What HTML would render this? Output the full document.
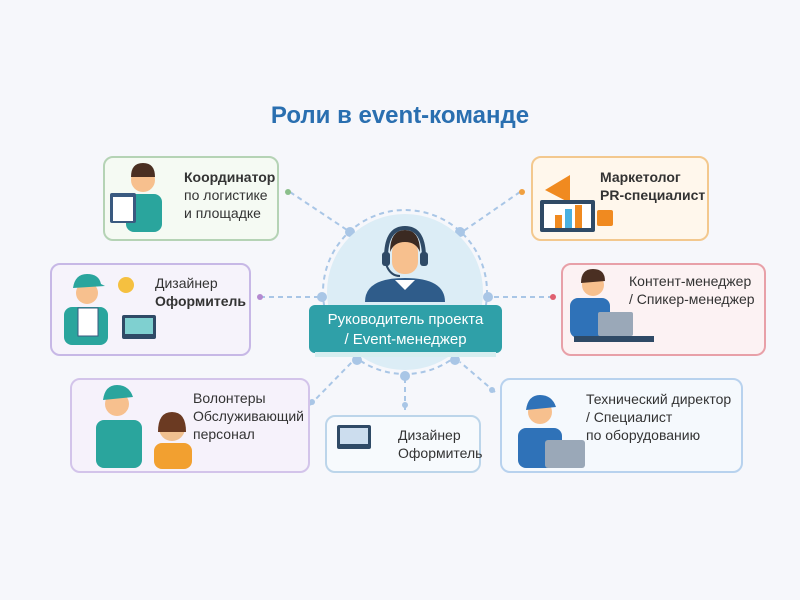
<!DOCTYPE html>
<html><head><meta charset="utf-8"><style>
body{margin:0;width:800px;height:600px;background:#f6f7fb;font-family:"Liberation Sans","DejaVu Sans",sans-serif;position:relative;overflow:hidden}
.card{position:absolute;border:2px solid;border-radius:10px;box-sizing:border-box}
.t{position:absolute;font-size:14px;line-height:18px;color:#333}
h1{position:absolute;left:0;width:800px;top:102px;margin:0;text-align:center;font-size:24px;color:#2a6fb0;font-weight:bold}
</style></head><body>
<h1>Роли в event-команде</h1>
<svg width="800" height="600" style="position:absolute;left:0;top:0">
<g stroke="#a9c6e6" stroke-width="2" stroke-dasharray="5 4" fill="none">
<circle cx="405" cy="292" r="82"/>
<line x1="290" y1="192" x2="350" y2="232"/>
<line x1="260" y1="297" x2="322" y2="297"/>
<line x1="310" y1="405" x2="352" y2="362"/>
<line x1="405" y1="378" x2="405" y2="412"/>
<line x1="495" y1="392" x2="460" y2="362"/>
<line x1="553" y1="297" x2="488" y2="297"/>
<line x1="520" y1="192" x2="462" y2="232"/>
</g>
<g fill="#a9c6e6"><circle cx="350" cy="232" r="5"/><circle cx="460" cy="232" r="5"/><circle cx="322" cy="297" r="5"/><circle cx="488" cy="297" r="5"/><circle cx="357" cy="360" r="5"/><circle cx="405" cy="376" r="5"/><circle cx="455" cy="360" r="5"/><circle cx="405" cy="405" r="3"/><circle cx="492" cy="390" r="3"/><circle cx="312" cy="402" r="3"/></g>
<circle cx="288" cy="192" r="3" fill="#8bbf8b"/><circle cx="260" cy="297" r="3" fill="#b48ad0"/><circle cx="522" cy="192" r="3" fill="#f0a040"/><circle cx="553" cy="297" r="3" fill="#e06070"/>
<circle cx="405" cy="292" r="78" fill="#dcedf6"/>
<!-- manager -->
<path d="M365 302 q0-24 40-24 q40 0 40 24z" fill="#2f5c8a"/>
<path d="M395 280 l10 10 l10-10z" fill="#fff"/>
<rect x="392" y="240" width="26" height="34" rx="12" fill="#f7c08e"/>
<path d="M390 252 q0-22 15-22 q15 0 15 22 q-4-10-15-10 q-11 0-15 10z" fill="#3b2a22"/>
<path d="M386 258 q0-30 19-30 q19 0 19 30" stroke="#2f4a66" stroke-width="4" fill="none"/>
<rect x="382" y="252" width="8" height="14" rx="3" fill="#2f4a66"/><rect x="420" y="252" width="8" height="14" rx="3" fill="#2f4a66"/>
<path d="M386 264 q4 12 14 12" stroke="#2f4a66" stroke-width="2" fill="none"/>
<rect x="309" y="305" width="193" height="48" rx="6" fill="#2fa0a8"/>
<rect x="315" y="352" width="181" height="5" fill="#d6eef0"/>
<!-- small figures -->
<g>
<circle cx="143" cy="180" r="12" fill="#f7c08e"/><path d="M131 177 q0-14 12-14 q12 0 12 14z" fill="#4a2f22"/><rect x="126" y="194" width="36" height="38" rx="8" fill="#2aa59d"/>
<rect x="110" y="193" width="26" height="30" rx="2" fill="#3a5a80"/><rect x="113" y="197" width="20" height="24" fill="#fff"/>
<circle cx="87" cy="293" r="11" fill="#f7c08e"/><path d="M73 288 q2-14 14-14 q12 0 14 10 l4 2z" fill="#2aa59d"/><rect x="64" y="307" width="44" height="38" rx="8" fill="#2aa59d"/><rect x="78" y="308" width="20" height="28" fill="#fff" stroke="#3a5a80"/>
<circle cx="126" cy="285" r="8" fill="#f5c040"/><rect x="122" y="315" width="34" height="24" rx="2" fill="#2f4a66"/><rect x="125" y="318" width="28" height="16" fill="#7fd0d0"/>
<circle cx="117" cy="404" r="12" fill="#f7c08e"/><path d="M103 400 q2-15 14-15 q12 0 16 12z" fill="#2aa59d"/><rect x="96" y="420" width="46" height="48" rx="8" fill="#2aa59d"/>
<circle cx="172" cy="428" r="13" fill="#f0c090"/><path d="M158 432 q0-20 14-20 q14 0 14 20z" fill="#6b3a22"/><rect x="154" y="443" width="38" height="26" rx="8" fill="#f2a030"/>
<rect x="337" y="425" width="34" height="24" rx="2" fill="#2f4a66"/><rect x="340" y="428" width="28" height="16" fill="#cde"/>
<path d="M545 190 l25-15 v28z" fill="#f08a20"/><rect x="540" y="200" width="55" height="32" rx="2" fill="#2f4a66"/><rect x="544" y="204" width="47" height="24" fill="#fff"/><rect x="555" y="215" width="7" height="13" fill="#f08a20"/><rect x="565" y="209" width="7" height="19" fill="#4ab0e0"/><rect x="575" y="205" width="7" height="23" fill="#f08a20"/><rect x="597" y="210" width="16" height="16" rx="2" fill="#f08a20"/>
<circle cx="593" cy="285" r="11" fill="#f7c08e"/><path d="M581 283 q0-14 12-14 q12 0 12 12z" fill="#4a2f22"/><rect x="570" y="298" width="40" height="40" rx="8" fill="#2f72b8"/><rect x="598" y="312" width="35" height="24" rx="2" fill="#9aa8b8"/><rect x="574" y="336" width="80" height="6" fill="#2f4a66"/>
<circle cx="540" cy="412" r="12" fill="#f7c08e"/><path d="M526 410 q2-15 14-15 q12 0 16 12z" fill="#2f72b8"/><rect x="518" y="428" width="44" height="40" rx="8" fill="#2f72b8"/><rect x="545" y="440" width="40" height="28" rx="3" fill="#9aa8b8"/>
</g>
</svg>
<div class="card" style="left:103px;top:156px;width:176px;height:85px;border-color:#b5d3b5;background:#f5faf3"></div>
<div class="card" style="left:50px;top:263px;width:201px;height:93px;border-color:#c7b8e6;background:#f6f3fb"></div>
<div class="card" style="left:70px;top:378px;width:240px;height:95px;border-color:#d3c4ea;background:#f6f2fb"></div>
<div class="card" style="left:325px;top:415px;width:156px;height:58px;border-color:#bcd5ea;background:#f7fafd"></div>
<div class="card" style="left:500px;top:378px;width:243px;height:95px;border-color:#b8d2ee;background:#f5f9fd"></div>
<div class="card" style="left:561px;top:263px;width:205px;height:93px;border-color:#e8a0a8;background:#fcf2f3"></div>
<div class="card" style="left:531px;top:156px;width:178px;height:85px;border-color:#f3c88e;background:#fff7ec"></div>
<svg width="800" height="600" style="position:absolute;left:0;top:0;pointer-events:none">
<circle cx="143" cy="180" r="12" fill="#f7c08e"/><path d="M131 177 q0-14 12-14 q12 0 12 14z" fill="#4a2f22"/><rect x="126" y="194" width="36" height="38" rx="8" fill="#2aa59d"/><rect x="110" y="193" width="26" height="30" rx="2" fill="#3a5a80"/><rect x="113" y="197" width="20" height="24" fill="#fff"/>
<circle cx="87" cy="293" r="11" fill="#f7c08e"/><path d="M73 288 q2-14 14-14 q12 0 14 10 l4 2z" fill="#2aa59d"/><rect x="64" y="307" width="44" height="38" rx="8" fill="#2aa59d"/><rect x="78" y="308" width="20" height="28" fill="#fff" stroke="#3a5a80"/>
<circle cx="126" cy="285" r="8" fill="#f5c040"/><rect x="122" y="315" width="34" height="24" rx="2" fill="#2f4a66"/><rect x="125" y="318" width="28" height="16" fill="#7fd0d0"/>
<circle cx="117" cy="404" r="12" fill="#f7c08e"/><path d="M103 400 q2-15 14-15 q12 0 16 12z" fill="#2aa59d"/><rect x="96" y="420" width="46" height="48" rx="8" fill="#2aa59d"/>
<circle cx="172" cy="428" r="13" fill="#f0c090"/><path d="M158 432 q0-20 14-20 q14 0 14 20z" fill="#6b3a22"/><rect x="154" y="443" width="38" height="26" rx="8" fill="#f2a030"/>
<rect x="337" y="425" width="34" height="24" rx="2" fill="#2f4a66"/><rect x="340" y="428" width="28" height="16" fill="#cde"/>
<path d="M545 190 l25-15 v28z" fill="#f08a20"/><rect x="540" y="200" width="55" height="32" rx="2" fill="#2f4a66"/><rect x="544" y="204" width="47" height="24" fill="#fff"/><rect x="555" y="215" width="7" height="13" fill="#f08a20"/><rect x="565" y="209" width="7" height="19" fill="#4ab0e0"/><rect x="575" y="205" width="7" height="23" fill="#f08a20"/><rect x="597" y="210" width="16" height="16" rx="2" fill="#f08a20"/>
<circle cx="593" cy="285" r="11" fill="#f7c08e"/><path d="M581 283 q0-14 12-14 q12 0 12 12z" fill="#4a2f22"/><rect x="570" y="298" width="40" height="40" rx="8" fill="#2f72b8"/><rect x="598" y="312" width="35" height="24" rx="2" fill="#9aa8b8"/><rect x="574" y="336" width="80" height="6" fill="#2f4a66"/>
<circle cx="540" cy="412" r="12" fill="#f7c08e"/><path d="M526 410 q2-15 14-15 q12 0 16 12z" fill="#2f72b8"/><rect x="518" y="428" width="44" height="40" rx="8" fill="#2f72b8"/><rect x="545" y="440" width="40" height="28" rx="3" fill="#9aa8b8"/>
</svg>
<div class="t" style="left:184px;top:168px"><b>Координатор</b><br>по логистике<br>и площадке</div>
<div class="t" style="left:155px;top:274px">Дизайнер<br><b>Оформитель</b></div>
<div class="t" style="left:193px;top:389px">Волонтеры<br>Обслуживающий<br>персонал</div>
<div class="t" style="left:398px;top:426px">Дизайнер<br>Оформитель</div>
<div class="t" style="left:586px;top:390px">Технический директор<br>/ Специалист<br>по оборудованию</div>
<div class="t" style="left:629px;top:272px">Контент-менеджер<br>/ Спикер-менеджер</div>
<div class="t" style="left:600px;top:168px"><b>Маркетолог<br>PR-специалист</b></div>
<div class="t" style="left:309px;top:310px;width:193px;text-align:center;color:#fff;font-size:15px;line-height:20px">Руководитель проекта<br>/ Event-менеджер</div>
</body></html>
